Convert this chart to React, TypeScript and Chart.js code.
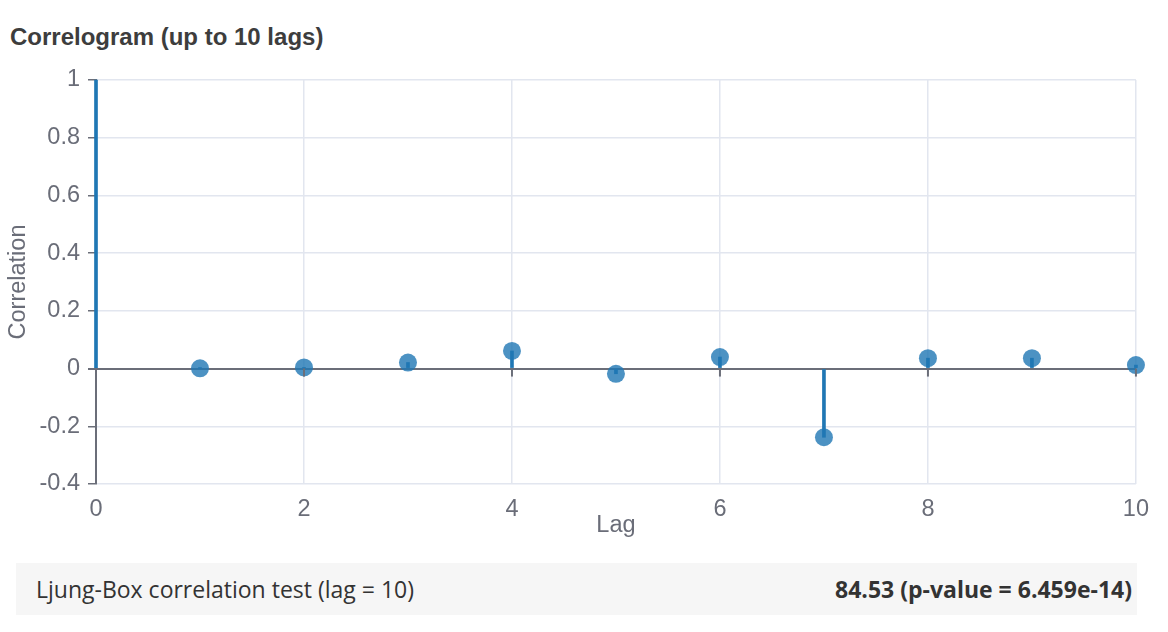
import React, { useEffect, useRef } from 'react';
import { Chart, registerables } from 'chart.js';

Chart.register(...registerables);

const lags: number[] = [0, 1, 2, 3, 4, 5, 6, 7, 8, 9, 10];
const correlations: number[] = [1, 0.001, 0.004, 0.021, 0.061, -0.018, 0.04, -0.238, 0.036, 0.036, 0.012];
const markerSizes: number[] = [0, 9, 9, 9, 9, 9, 9, 9, 9, 9, 9];
const xTickValues: number[] = [0, 2, 4, 6, 8, 10];
const yTickValues: number[] = [-0.4, -0.2, 0, 0.2, 0.4, 0.6, 0.8, 1];
const chartTitle = 'Correlogram (up to 10 lags)';
const xTitle = 'Lag';
const yTitle = 'Correlation';
const testLabel = 'Ljung-Box correlation test (lag = 10)';
const testValue = '84.53 (p-value = 6.459e-14)';

const AXIS_DARK = '#6b6e79';
const GRID = '#e2e6ef';
const TEXT_GRAY = '#6a6d78';
const BLUE = '#1f77b4';
const FONT = "'Liberation Sans', Arial, Helvetica, sans-serif";

const zeroTicksPlugin = {
  id: 'zeroTicks',
  afterDatasetsDraw(chart: any) {
    const { ctx, scales } = chart;
    const x = scales.x;
    const y = scales.y;
    const y0 = y.getPixelForValue(0);
    ctx.save();
    ctx.strokeStyle = AXIS_DARK;
    ctx.lineWidth = 2;
    xTickValues.forEach((v) => {
      if (v === 0) return;
      const px = x.getPixelForValue(v);
      ctx.beginPath();
      ctx.moveTo(px, y0);
      ctx.lineTo(px, y0 + 8);
      ctx.stroke();
    });
    ctx.restore();
  },
};

function Correlogram() {
  const ref = useRef<HTMLCanvasElement | null>(null);
  useEffect(() => {
    if (!ref.current) return;
    const points = lags.map((l, i) => ({ x: l, y: correlations[i] }));
    const chart = new Chart(ref.current, {
      type: 'bar',
      data: {
        datasets: [
          {
            type: 'bar',
            label: 'stems',
            data: points as any,
            backgroundColor: BLUE,
            borderWidth: 0,
            barThickness: 3,
            clip: false,
            order: 0,
          } as any,
          {
            type: 'scatter',
            label: 'points',
            data: points as any,
            backgroundColor: 'rgba(31,119,180,0.8)',
            borderWidth: 0,
            pointRadius: markerSizes,
            pointHoverRadius: markerSizes,
            clip: false,
            order: 1,
          } as any,
        ],
      },
      plugins: [zeroTicksPlugin],
      options: {
        animation: false,
        responsive: false,
        maintainAspectRatio: false,
        layout: { padding: { left: 0, top: 25, right: 23, bottom: 0 } },
        plugins: { legend: { display: false }, tooltip: { enabled: false }, title: { display: false } },
        scales: {
          x: {
            type: 'linear',
            min: 0,
            max: 10,
            offset: false,
            afterBuildTicks: (s: any) => {
              s.ticks = xTickValues.map((v) => ({ value: v }));
            },
            afterFit: (s: any) => {
              s.height = 66;
            },
            grid: { color: GRID, lineWidth: 1.5, drawTicks: false, offset: false },
            border: { display: false },
            ticks: {
              color: TEXT_GRAY,
              font: { family: FONT, size: 23.5 },
              padding: 11,
              maxRotation: 0,
              callback: (v: any) => String(v),
            },
            title: {
              display: true,
              text: xTitle,
              color: TEXT_GRAY,
              font: { family: FONT, size: 23.5 },
              padding: { top: 0, bottom: 10 },
            },
          },
          y: {
            type: 'linear',
            min: -0.4,
            max: 1,
            afterBuildTicks: (s: any) => {
              s.ticks = yTickValues.map((v) => ({ value: v }));
            },
            afterFit: (s: any) => {
              s.width = 96;
            },
            grid: {
              color: (c: any) => (c.tick && Math.abs(c.tick.value) < 1e-9 ? AXIS_DARK : GRID),
              lineWidth: (c: any) => (c.tick && Math.abs(c.tick.value) < 1e-9 ? 2 : 1.5),
              tickColor: AXIS_DARK,
              tickLength: 8,
              drawTicks: true,
            },
            border: { display: true, color: AXIS_DARK, width: 2 },
            ticks: {
              color: TEXT_GRAY,
              font: { family: FONT, size: 23.5 },
              padding: 8,
              callback: (v: any) => String(Math.round(Number(v) * 10) / 10),
            },
            title: {
              display: true,
              text: yTitle,
              color: TEXT_GRAY,
              font: { family: FONT, size: 23.5 },
              padding: { top: 4, bottom: 0 },
            },
          },
        },
      } as any,
    });
    return () => chart.destroy();
  }, []);
  return <canvas ref={ref} width={1160} height={495} style={{ width: 1160, height: 495, display: 'block' }} />;
}

export default function App() {
  return (
    <div style={{ position: 'absolute', left: 0, top: 0, width: 1168, height: 632, background: '#fff', overflow: 'hidden' }}>
      <div
        style={{
          position: 'absolute',
          left: 10,
          top: 22,
          fontFamily: FONT,
          fontWeight: 'bold',
          fontSize: 24,
          color: '#3d3d3d',
          lineHeight: '30px',
          whiteSpace: 'nowrap',
        }}
      >
        {chartTitle}
      </div>
      <div style={{ position: 'absolute', left: 0, top: 55 }}>
        <Correlogram />
      </div>
      <div
        style={{
          position: 'absolute',
          left: 16,
          top: 563,
          width: 1121,
          height: 52,
          background: '#f6f6f6',
          display: 'flex',
          alignItems: 'center',
          justifyContent: 'space-between',
          boxSizing: 'border-box',
          padding: '0 5px 0 20px',
          fontFamily: "'Open Sans', Lato, sans-serif",
          fontSize: 23,
          color: '#333',
          whiteSpace: 'nowrap',
        }}
      >
        <span>{testLabel}</span>
        <span style={{ fontWeight: 'bold' }}>{testValue}</span>
      </div>
    </div>
  );
}
